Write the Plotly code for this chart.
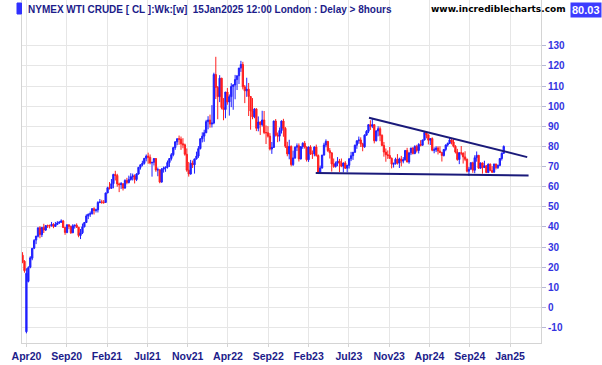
import pandas as pd
import plotly.graph_objects as go

# Weekly OHLC (open, high, low, close), weeks starting Monday 2020-04-06
first_week = "2020-04-06"

ohlc_2020 = [
    (26.0, 27.5, 22.0, 22.8), (23.0, 23.5, 17.3, 18.3), (-12.0, 19.5, -12.8, 17.0), (13.0, 20.5, 12.5, 19.8),
    (20.0, 25.5, 19.5, 24.7), (24.5, 29.5, 23.5, 29.4), (29.5, 34.0, 29.0, 33.3), (33.5, 35.5, 31.5, 35.5),
    (35.4, 39.6, 34.8, 39.6), (39.6, 40.4, 34.4, 36.3), (36.2, 40.0, 35.0, 39.8), (39.8, 41.6, 37.0, 38.5),
    (38.5, 40.8, 38.0, 40.7), (40.7, 41.2, 39.5, 40.6), (40.6, 41.2, 39.3, 40.6), (40.6, 42.5, 40.2, 41.3),
    (41.3, 41.9, 39.4, 40.3), (40.3, 42.5, 40.0, 41.2), (41.2, 42.9, 41.0, 42.0), (42.0, 43.0, 41.5, 42.3),
    (42.3, 43.8, 42.1, 43.0), (43.0, 43.5, 39.5, 39.8), (39.8, 39.9, 36.1, 37.3), (37.3, 41.2, 36.9, 41.1),
    (41.1, 41.2, 38.9, 40.3), (40.3, 40.7, 36.6, 37.1), (37.1, 41.4, 37.0, 40.6), (40.6, 41.1, 39.2, 40.9),
    (40.9, 41.8, 39.5, 39.9), (39.9, 40.0, 34.9, 35.8), (35.8, 39.0, 34.0, 37.1), (37.1, 41.7, 36.5, 40.1),
    (40.1, 42.5, 39.8, 42.2), (42.2, 46.3, 42.0, 45.5), (45.5, 46.7, 43.9, 46.3), (46.3, 47.7, 45.0, 46.6),
    (46.6, 49.3, 46.2, 49.1), (49.1, 49.8, 46.2, 48.2), (48.2, 49.1, 47.2, 48.5),
]
ohlc_2021 = [
    (48.5, 52.8, 47.2, 52.2), (52.2, 53.9, 51.8, 52.4), (52.4, 53.5, 51.5, 52.3), (52.3, 53.4, 51.5, 52.2),
    (52.2, 57.0, 52.0, 56.9), (56.9, 60.0, 56.8, 59.5), (59.5, 62.3, 58.6, 59.2), (59.2, 63.8, 59.0, 61.5),
    (61.5, 66.4, 59.2, 66.1), (66.1, 67.9, 63.1, 65.6), (65.6, 66.4, 60.0, 61.4), (61.4, 62.0, 57.3, 61.0),
    (61.0, 62.3, 58.9, 61.5), (61.5, 61.6, 58.1, 59.3), (59.3, 63.7, 59.0, 63.1), (63.1, 64.4, 61.2, 62.1),
    (62.1, 65.5, 61.6, 63.6), (63.6, 66.7, 63.0, 64.9), (64.9, 66.5, 63.1, 65.4), (65.4, 66.1, 61.6, 63.6),
    (63.6, 66.7, 62.8, 66.3), (66.3, 69.8, 66.0, 69.6), (69.6, 71.0, 68.5, 70.9), (70.9, 72.9, 70.1, 71.6),
    (71.6, 74.2, 71.0, 74.1), (74.1, 76.0, 72.6, 75.2), (75.2, 76.9, 71.4, 74.6), (74.6, 76.0, 71.1, 71.8),
    (71.8, 72.3, 65.0, 72.1), (72.1, 74.2, 70.5, 74.0), (74.0, 74.2, 67.4, 68.3), (68.3, 69.5, 65.2, 68.4),
    (68.4, 68.5, 61.7, 62.3), (62.3, 69.3, 62.0, 68.7), (68.7, 70.0, 67.0, 69.3), (69.3, 70.0, 67.4, 69.7),
    (69.7, 73.0, 69.0, 72.0), (72.0, 74.0, 69.8, 74.0), (74.0, 76.7, 73.0, 75.9), (75.9, 79.8, 75.1, 79.4),
    (79.4, 82.4, 78.3, 82.3), (82.3, 84.0, 80.6, 83.8), (83.8, 85.4, 80.8, 83.6), (83.6, 84.9, 78.3, 81.3),
    (81.3, 84.1, 79.1, 80.8), (80.8, 81.4, 75.4, 76.1), (76.1, 79.0, 67.4, 68.2), (68.2, 72.3, 65.0, 66.3),
    (66.3, 73.3, 66.0, 71.7), (71.7, 73.0, 69.3, 70.9), (70.9, 73.9, 66.5, 73.8), (73.8, 77.4, 73.5, 75.2),
]
ohlc_2022 = [
    (75.2, 80.2, 74.3, 78.9), (78.9, 84.0, 78.5, 83.8), (83.8, 87.0, 82.0, 85.1), (85.1, 88.3, 82.3, 86.8),
    (86.8, 93.2, 86.6, 92.3), (92.3, 95.0, 88.5, 93.1), (93.1, 95.8, 89.3, 91.1), (91.1, 100.5, 89.4, 91.6),
    (91.6, 116.6, 91.0, 115.7), (115.7, 124.5, 103.5, 109.3), (109.3, 110.0, 93.5, 104.7), (104.7, 115.4, 102.0, 113.9),
    (113.9, 114.0, 98.4, 99.3), (99.3, 104.0, 93.0, 98.3), (98.3, 107.0, 94.0, 107.0), (107.0, 109.0, 100.7, 102.1),
    (102.1, 105.8, 95.3, 104.7), (104.7, 111.4, 99.5, 109.8), (109.8, 111.0, 98.2, 110.5), (110.5, 115.5, 103.4, 113.2),
    (113.2, 115.1, 108.0, 115.1), (115.1, 119.0, 111.0, 118.9), (118.9, 122.5, 117.0, 120.7), (120.7, 122.0, 108.3, 109.6),
    (109.6, 110.5, 101.5, 107.6), (107.6, 114.1, 104.6, 108.4), (108.4, 111.5, 95.1, 104.8), (104.8, 105.0, 88.3, 97.6),
    (97.6, 104.0, 93.5, 94.7), (94.7, 99.0, 94.0, 98.6), (98.6, 99.0, 87.6, 89.0), (89.0, 94.9, 87.5, 92.1),
    (92.1, 92.5, 85.7, 90.8), (90.8, 97.7, 89.9, 93.1), (93.1, 97.6, 86.1, 86.9), (86.9, 90.4, 81.2, 86.8),
    (86.8, 90.1, 84.4, 85.1), (85.1, 86.6, 78.0, 78.7), (78.7, 82.2, 76.3, 79.5), (79.5, 92.8, 79.3, 92.6),
    (92.6, 93.6, 84.9, 85.6), (85.6, 86.9, 82.1, 85.1), (85.1, 89.4, 82.5, 87.9), (87.9, 92.9, 86.4, 92.6),
    (92.6, 93.7, 84.8, 89.0), (89.0, 89.6, 79.2, 80.1), (80.1, 82.3, 75.1, 76.3), (76.3, 83.3, 73.6, 80.0),
    (80.0, 80.5, 70.1, 71.0), (71.0, 77.9, 70.3, 74.3), (74.3, 80.0, 73.8, 79.6), (79.6, 81.5, 77.7, 80.3),
]
ohlc_2023 = [
    (80.3, 81.5, 72.5, 73.8), (73.8, 80.0, 73.5, 79.9), (79.9, 82.0, 78.8, 81.6), (81.6, 82.7, 78.9, 79.7),
    (79.7, 79.9, 72.5, 73.4), (73.4, 80.0, 72.3, 79.7), (79.7, 80.6, 75.8, 76.3), (76.3, 78.0, 73.8, 76.3),
    (76.3, 80.0, 75.1, 79.7), (79.7, 80.9, 74.9, 75.5), (75.5, 76.0, 66.8, 67.0), (67.0, 70.5, 66.8, 69.3),
    (69.3, 75.8, 69.0, 75.7), (75.7, 81.8, 75.5, 80.7), (80.7, 83.5, 79.6, 82.5), (82.5, 82.7, 77.2, 77.9),
    (77.9, 79.2, 74.0, 76.8), (76.8, 77.0, 67.5, 71.3), (71.3, 74.0, 69.4, 70.0), (70.0, 72.5, 69.5, 71.7),
    (71.7, 74.7, 70.2, 72.7), (72.7, 73.8, 67.3, 71.7), (71.7, 74.0, 69.7, 70.2), (70.2, 72.0, 67.1, 71.8),
    (71.8, 72.7, 68.8, 69.2), (69.2, 70.9, 67.1, 70.6), (70.6, 74.0, 69.0, 73.9), (73.9, 77.3, 72.7, 75.4),
    (75.4, 77.2, 73.3, 77.1), (77.1, 80.9, 76.8, 80.6), (80.6, 83.0, 78.8, 82.8), (82.8, 84.9, 81.3, 83.2),
    (83.2, 84.5, 79.7, 81.3), (81.3, 81.8, 77.6, 79.8), (79.8, 86.0, 79.3, 85.6), (85.6, 88.1, 85.3, 87.5),
    (87.5, 91.0, 86.6, 90.8), (90.8, 93.0, 88.2, 90.0), (90.0, 94.0, 89.1, 90.8), (90.8, 91.0, 81.5, 82.8),
    (82.8, 88.0, 82.5, 87.7), (87.7, 90.0, 85.0, 88.8), (88.8, 89.9, 82.6, 85.5), (85.5, 86.0, 80.1, 80.5),
    (80.5, 82.2, 74.9, 77.2), (77.2, 79.0, 72.4, 75.9), (75.9, 78.0, 73.8, 75.5), (75.5, 79.7, 73.8, 74.1),
    (74.1, 74.5, 69.1, 71.2), (71.2, 72.0, 69.5, 71.4), (71.4, 74.4, 71.0, 73.6), (73.6, 76.2, 71.0, 71.7),
]
ohlc_2024 = [
    (71.7, 74.4, 69.3, 73.8), (73.8, 75.3, 70.1, 72.7), (72.7, 74.7, 71.6, 73.4), (73.4, 78.0, 73.0, 78.0),
    (78.0, 79.3, 72.1, 72.3), (72.3, 77.0, 71.4, 76.8), (76.8, 79.3, 75.7, 79.2), (79.2, 79.6, 76.0, 76.5),
    (76.5, 80.6, 76.1, 80.0), (80.0, 80.8, 77.0, 78.0), (78.0, 81.6, 76.5, 81.0), (81.0, 83.1, 80.0, 80.6),
    (80.6, 83.3, 80.4, 83.2), (83.2, 87.0, 83.0, 86.9), (86.9, 87.0, 84.0, 85.7), (85.7, 86.0, 81.0, 83.1),
    (83.1, 84.0, 80.7, 83.9), (83.9, 84.5, 77.6, 78.1), (78.1, 79.5, 76.6, 78.3), (78.3, 80.1, 77.2, 79.2),
    (79.2, 80.1, 76.0, 77.7), (77.7, 80.1, 76.7, 77.0), (77.0, 77.3, 72.5, 75.5), (75.5, 78.7, 75.0, 78.5),
    (78.5, 81.0, 77.6, 80.7), (80.7, 81.9, 79.9, 81.5), (81.5, 84.4, 81.5, 83.2), (83.2, 84.0, 81.0, 82.2),
    (82.2, 83.6, 79.5, 80.1), (80.1, 80.6, 76.5, 77.2), (77.2, 78.8, 72.9, 73.5), (73.5, 77.1, 71.2, 76.8),
    (76.8, 80.2, 75.6, 76.7), (76.7, 77.0, 71.5, 74.8), (74.8, 77.6, 72.7, 73.6), (73.6, 74.0, 67.1, 67.7),
    (67.7, 69.8, 65.3, 68.7), (68.7, 72.2, 68.5, 71.9), (71.9, 72.4, 66.9, 68.2), (68.2, 75.6, 66.7, 74.4),
    (74.4, 77.5, 72.4, 75.6), (75.6, 75.7, 69.0, 69.2), (69.2, 72.0, 69.0, 71.8), (71.8, 72.0, 66.5, 69.5),
    (69.5, 72.9, 69.4, 70.4), (70.4, 70.5, 66.9, 67.0), (67.0, 71.5, 67.0, 71.2), (71.2, 71.5, 67.7, 68.0),
    (68.0, 70.2, 66.9, 67.2), (67.2, 71.3, 67.0, 71.3), (71.3, 71.3, 68.6, 69.5), (69.5, 71.0, 68.8, 70.6),
    (70.6, 74.2, 70.2, 74.0),
]
ohlc_2025 = [
    (74.0, 77.0, 73.0, 76.6), (76.6, 80.5, 76.3, 80.0),
]

# Trend lines drawn on the chart
resistance_dates = ["2023-09-13", "2025-04-08"]
resistance_values = [94.2, 74.7]
support_dates = ["2023-03-04", "2025-04-13"]
support_values = [66.8, 65.6]

# Axis ticks
x_tick_dates = ["2020-04-20", "2020-09-13", "2021-02-06", "2021-07-02", "2021-11-25", "2022-04-20",
                "2022-09-13", "2023-02-06", "2023-07-02", "2023-11-25", "2024-04-19", "2024-09-12",
                "2025-02-05"]
x_tick_labels = ["Apr20", "Sep20", "Feb21", "Jul21", "Nov21", "Apr22", "Sep22", "Feb23", "Jul23",
                 "Nov23", "Apr24", "Sep24", "Jan25"]
y_tick_values = [-10, 0, 10, 20, 30, 40, 50, 60, 70, 80, 90, 100, 110, 120, 130]
y_tick_labels = ["-10", "0", "10", "20", "30", "40", "50", "60", "70", "80", "90", "100", "110", "120", "130"]

last_price = "80.03"

rows = ohlc_2020 + ohlc_2021 + ohlc_2022 + ohlc_2023 + ohlc_2024 + ohlc_2025
df = pd.DataFrame(rows, columns=["open", "high", "low", "close"])
df["date"] = pd.date_range(first_week, periods=len(df), freq="W-MON")

BLUE = "#1f1fff"
RED = "#ff1f1f"
NAVY = "#1a1a7a"
FONT = "Liberation Sans, Arial, sans-serif"
WIDE = "DejaVu Sans, Verdana, sans-serif"

fig = go.Figure()
fig.add_trace(go.Candlestick(
    x=df["date"], open=df["open"], high=df["high"], low=df["low"], close=df["close"],
    increasing=dict(line=dict(color=BLUE, width=1), fillcolor=BLUE),
    decreasing=dict(line=dict(color=RED, width=1), fillcolor=RED),
    whiskerwidth=0, showlegend=False, hoverinfo="skip",
))
fig.add_trace(go.Scatter(x=resistance_dates, y=resistance_values, mode="lines",
                         line=dict(color=NAVY, width=2), showlegend=False, hoverinfo="skip"))
fig.add_trace(go.Scatter(x=support_dates, y=support_values, mode="lines",
                         line=dict(color=NAVY, width=2), showlegend=False, hoverinfo="skip"))

L, R, T, B = 22, 61, 0, 22
W, H = 602, 365
pw, ph = W - L - R, H - T - B

def px(x):
    return (x - L) / pw

def py(y):
    return 1 - (y - T) / ph

fig.update_layout(
    width=W, height=H,
    margin=dict(l=L, r=R, t=T, b=B, autoexpand=False),
    paper_bgcolor="white", plot_bgcolor="white",
    boxgap=0.05,
    font=dict(family=FONT),
    xaxis=dict(
        type="date", range=["2020-04-04", "2025-05-28"],
        rangeslider=dict(visible=False),
        tickmode="array", tickvals=x_tick_dates,
        ticktext=["<b>%s</b>" % t for t in x_tick_labels],
        tickfont=dict(family=FONT, size=10.5, color="#1c1c8a"),
        showgrid=True, gridcolor="#e6e6e6", gridwidth=1,
        showline=True, linecolor="#d4d4d4", linewidth=1,
        ticks="outside", ticklen=3, tickcolor="#d4d4d4",
        zeroline=False, fixedrange=True,
    ),
    yaxis=dict(
        side="right", range=[-17.6, 152.7],
        tickmode="array", tickvals=y_tick_values,
        ticktext=["<b>%s</b>" % t for t in y_tick_labels],
        tickfont=dict(family=FONT, size=10, color="#3434e0"),
        showgrid=True, gridcolor="#e6e6e6", gridwidth=1,
        showline=True, linecolor="#d4d4d4", linewidth=1, mirror=True,
        ticks="outside", ticklen=4, tickcolor="#b8b8d8",
        zeroline=False, fixedrange=True,
    ),
)

fig.add_shape(type="rect", xref="paper", yref="paper",
              x0=px(17), x1=px(21.5), y0=py(14), y1=py(3),
              fillcolor="#3030ff", line=dict(color="#3030ff", width=1))

fig.add_annotation(xref="paper", yref="paper", x=px(26), y=py(9), xanchor="left", yanchor="middle",
                   text="<b>NYMEX WTI CRUDE [ CL ]:Wk:[w]  15Jan2025 12:00 London : Delay &gt; 8hours</b>",
                   showarrow=False, font=dict(family=FONT, size=10, color="#1c1c8a"))
fig.add_annotation(xref="paper", yref="paper", x=px(568), y=py(9), xanchor="right", yanchor="middle",
                   text="<b>www.incrediblecharts.com</b>",
                   showarrow=False, font=dict(family=WIDE, size=9, color="#000000"))
fig.add_annotation(xref="paper", yref="paper", x=px(586), y=py(9.5), xanchor="center", yanchor="middle",
                   text="<b>%s</b>" % last_price, bgcolor="#3c3cff", borderpad=1,
                   showarrow=False, font=dict(family=FONT, size=11, color="#ffffff"))

fig.write_html("out.html", config={"displayModeBar": False, "staticPlot": True})

# remove the default page margin so the figure sits at the window's top-left corner
with open("out.html", "r", encoding="utf-8") as f:
    html = f.read()
html = html.replace("<head>", "<head><style>html,body{margin:0;padding:0;overflow:hidden;}</style>", 1)
with open("out.html", "w", encoding="utf-8") as f:
    f.write(html)
